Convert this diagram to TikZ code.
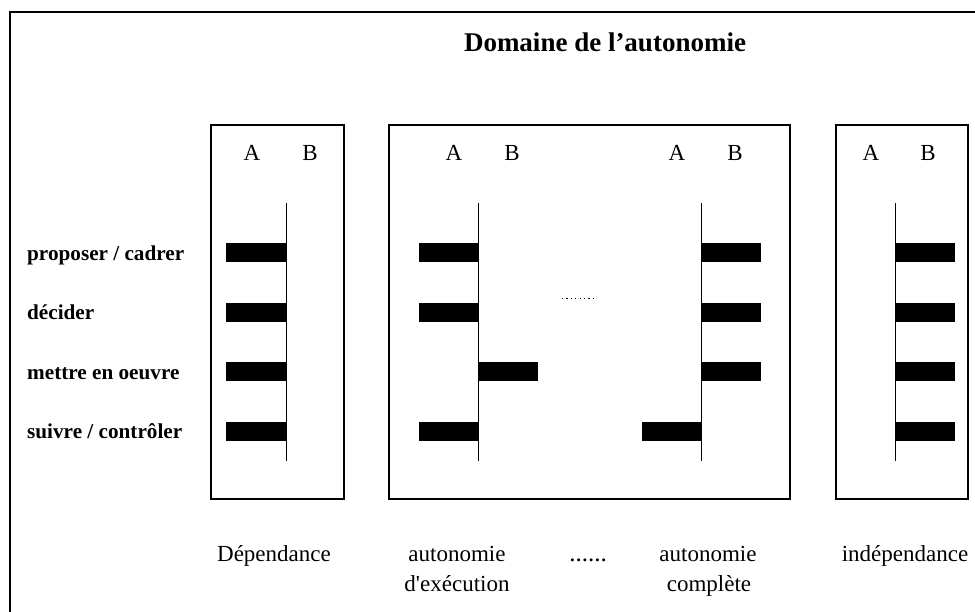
\documentclass[tikz,border=0pt]{standalone}
\usepackage{fontspec}
\setmainfont{Liberation Serif}[Ligatures=TeXOff]
\begin{document}
\begin{tikzpicture}[x=1pt,y=-1pt,
  panel/.style={draw,line width=1.3pt},
  axisline/.style={line width=1pt},
  bar/.style={fill=black},
  ab/.style={font=\fontsize{23}{25}\selectfont,inner sep=0pt,anchor=base},
  rowlab/.style={font=\fontsize{21.2}{24}\bfseries\selectfont,inner sep=0pt,anchor=base west},
  botlab/.style={font=\fontsize{23}{30}\selectfont,inner sep=0pt,anchor=base}]
\useasboundingbox (0,0) rectangle (975,612);
% outer frame
\draw[line width=1.6pt] (10,612) -- (10,12) -- (975,12);
% title
\node[font=\fontsize{27}{30}\bfseries\selectfont,inner sep=0pt,anchor=base] (title) at (605,52) {Domaine de l’autonomie};
% panels
\draw[panel] (211,125) rectangle (344,499);
\draw[panel] (389,125) rectangle (790,499);
\draw[panel] (836,125) rectangle (968,499);
% axes
\foreach \x in {286,478,701,895} \draw[axisline] (\x,203) -- (\x,461);
% A / B labels
\node[ab] (a1) at (252,161) {A}; \node[ab] (b1) at (310,161) {B};
\node[ab] (a2) at (454,161) {A}; \node[ab] (b2) at (512,161) {B};
\node[ab] (a3) at (677,161) {A}; \node[ab] (b3) at (735,161) {B};
\node[ab] (a4) at (871,161) {A}; \node[ab] (b4) at (928,161) {B};
% bars
\foreach \y in {253,313,372,431} \fill[bar] (226,\y-9.5) rectangle (286,\y+9.5);
\foreach \y in {253,313,431} \fill[bar] (419,\y-9.5) rectangle (478,\y+9.5);
\fill[bar] (478,372-9.5) rectangle (538,372+9.5);
\foreach \y in {253,313,372} \fill[bar] (701,\y-9.5) rectangle (761,\y+9.5);
\fill[bar] (642,431-9.5) rectangle (701,431+9.5);
\foreach \y in {253,313,372,431} \fill[bar] (895,\y-9.5) rectangle (955,\y+9.5);
% middle dots
\draw[line width=1pt,dash pattern=on 1.2pt off 3.2pt] (562,299) -- (597,299);
% row labels
\node[rowlab] (r1) at (27,261) {proposer / cadrer};
\node[rowlab] (r2) at (27,320) {décider};
\node[rowlab] (r3) at (27,380) {mettre en oeuvre};
\node[rowlab] (r4) at (27,438) {suivre / contrôler};
% bottom labels
\node[botlab] (l1) at (274,561) {Dépendance};
\node[botlab] (l2) at (457,561) {autonomie};
\node[botlab] (l2b) at (457,591) {d'exécution};
\node[botlab,font=\fontsize{25}{30}\selectfont] (l3) at (588,561) {......};
\node[botlab] (l4) at (708,561) {autonomie};
\node[botlab] (l4b) at (709,591) {complète};
\node[botlab] (l5) at (905,561) {indépendance};
\end{tikzpicture}
\end{document}
